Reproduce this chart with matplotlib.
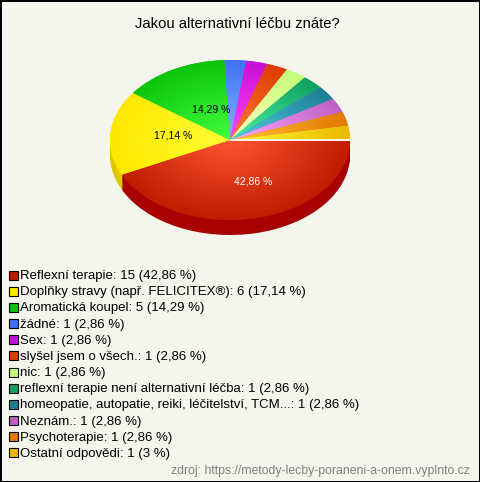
import numpy as np
import matplotlib
matplotlib.use('Agg')
import matplotlib.pyplot as plt
from matplotlib.patches import Rectangle

matplotlib.rcParams['font.family'] = ['Liberation Sans', 'DejaVu Sans']

names = ['Reflexní terapie', 'Doplňky stravy (např. FELICITEX®)', 'Aromatická koupel', 'žádné', 'Sex',
         'slyšel jsem o všech.', 'nic', 'reflexní terapie není alternativní léčba',
         'homeopatie, autopatie, reiki, léčitelství, TCM...', 'Neznám.', 'Psychoterapie', 'Ostatní odpovědi']
counts = [15, 6, 5, 1, 1, 1, 1, 1, 1, 1, 1, 1]
percents = ['42,86', '17,14', '14,29', '2,86', '2,86', '2,86', '2,86', '2,86', '2,86', '2,86', '2,86', '3']
colors = ['#c01c00', '#ffe800', '#0cc40c', '#4070f4', '#c810d4', '#e03c00',
          '#c4fc78', '#10a060', '#1c8094', '#c060c4', '#e47800', '#e8b800']
side_colors = ['#a80000', '#e0c800']

W, H = 480, 482
BG = '#f5f5ee'
fig = plt.figure(figsize=(W / 100, H / 100), dpi=100, facecolor=BG)

# page axes in pixels
page = fig.add_axes([0, 0, 1, 1])
page.set_xlim(0, W)
page.set_ylim(H, 0)
page.axis('off')
page.add_patch(Rectangle((0.5, 0.5), W - 1, H - 1, fill=False, ec='black', lw=1.2, antialiased=False))
page.text(237.5, 24, 'Jakou alternativní léčbu znáte?', ha='center', va='center', fontsize=10.6)

# pie axes: unit circle stretched to an ellipse
CX, CY, RX, RY, DEPTH = 230, 140, 120, 80, 15
ax = fig.add_axes([(CX - RX) / W, 1 - (CY + RY) / H, 2 * RX / W, 2 * RY / H])
ax.patch.set_alpha(0)

# side of the pie, only first two slices are visible
for d in np.arange(DEPTH, 0, -1.0):
    wedges, _ = ax.pie(counts, startangle=0, counterclock=False, radius=1, center=(0, -d / RY),
                       colors=side_colors + [BG] * 10)
    for w in wedges[2:]:
        w.set_visible(False)

# top, radial gradient clipped by the wedges
wedges, _ = ax.pie(counts, startangle=0, counterclock=False, radius=1, center=(0, 0),
                   colors=colors, wedgeprops={'linewidth': 0})
xx, yy = np.meshgrid(np.linspace(-1, 1, 480), np.linspace(-1, 1, 320))
rr = np.clip(np.sqrt(xx ** 2 + yy ** 2), 0, 1)[..., None]
for w, c in zip(wedges, colors):
    base = np.array(matplotlib.colors.to_rgb(c))
    light = np.clip(base * 1.2 + 0.2, 0, 1)
    img = light * (1 - rr) + base * rr
    im = ax.imshow(img, extent=(-1, 1, -1, 1), origin='lower', aspect='auto', zorder=3)
    im.set_clip_path(w)
ax.set_aspect('auto')
ax.set_xlim(-1, 1)
ax.set_ylim(-1, 1)
ax.axis('off')
for a in ax.get_children():
    a.set_clip_on(a.get_clip_on() and hasattr(a, 'get_array'))

# light gap between the red slice and the last one
ax.plot([0, 1], [0.006, 0.006], color='#fff8f0', lw=1.4, zorder=4, clip_on=False, solid_capstyle='butt')

page.set_zorder(2)
page.text(253, 181, percents[0] + ' %', color='white', ha='center', va='center', fontsize=7.5)
page.text(173, 135, percents[1] + ' %', color='black', ha='center', va='center', fontsize=7.5)
page.text(211, 110, percents[2] + ' %', color='black', ha='center', va='center', fontsize=7.5)

# legend
for i, (n, k, p, c) in enumerate(zip(names, counts, percents, colors)):
    y = 279 + i * 16.18
    page.add_patch(Rectangle((8.6, y - 8.5), 9, 9, fc=c, ec='black', lw=0.8))
    page.text(20, y, '%s: %d (%s %%)' % (n, k, p), ha='left', va='baseline', fontsize=9.5)

page.text(470, 471, 'zdroj: https://metody-lecby-poraneni-a-onem.vyplnto.cz', color='#808080',
          ha='right', va='center', fontsize=8.8)

fig.savefig('out.png', dpi=100, facecolor=BG)
